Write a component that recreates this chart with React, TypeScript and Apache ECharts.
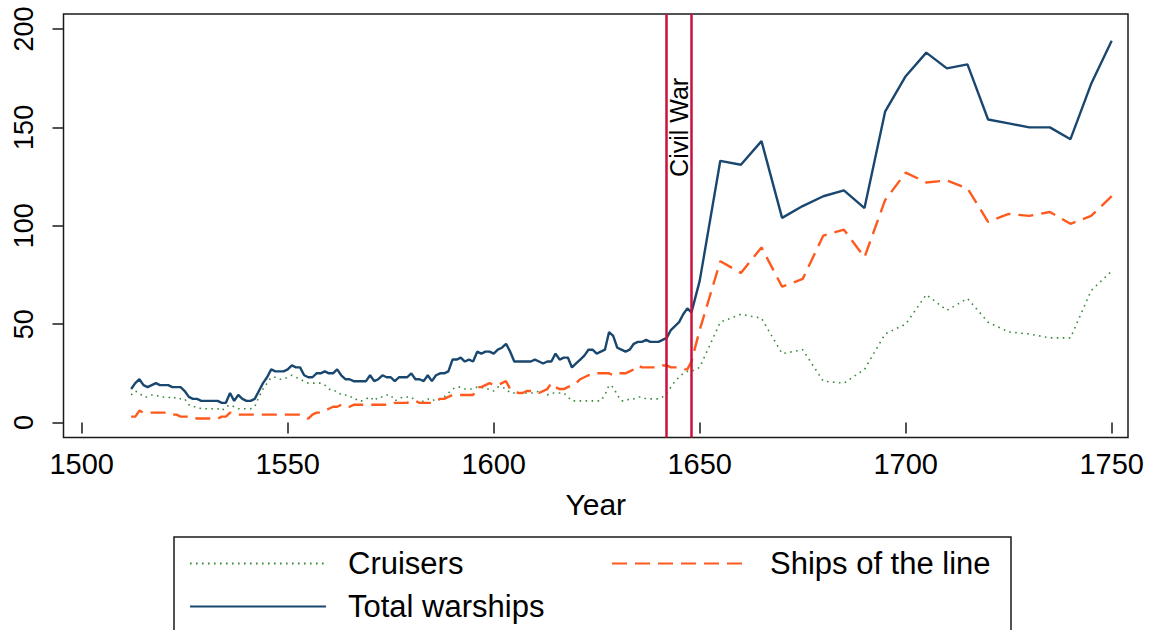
import React, { useEffect, useRef } from "react";
import * as echarts from "echarts";

// Annual observations start here (one value per year up to 1648)
const annualStart = 1512;

// Total warships, 1512–1648 (annual)
const totalAnnual = [
  17, 20, 22, 19, 18, 19, 20, 19, // 1512-1519
  19, 19, 18, 18, 18, 16, 13, 12, 12, 11, // 1520s
  11, 11, 11, 11, 10, 10, 15, 11, 14, 12, // 1530s
  11, 11, 12, 16, 20, 23, 27, 26, 26, 26, // 1540s
  27, 29, 28, 28, 24, 23, 23, 25, 25, 26, // 1550s
  25, 25, 27, 24, 22, 22, 21, 21, 21, 21, // 1560s
  24, 21, 22, 24, 23, 23, 21, 23, 23, 23, // 1570s
  25, 22, 22, 21, 24, 21, 24, 25, 25, 26, // 1580s
  32, 32, 33, 31, 32, 31, 36, 35, 36, 36, // 1590s
  35, 37, 38, 40, 36, 31, 31, 31, 31, 31, // 1600s
  32, 31, 30, 31, 31, 35, 32, 33, 33, 28, // 1610s
  30, 32, 34, 37, 37, 35, 36, 37, 46, 44, // 1620s
  38, 37, 36, 37, 40, 41, 41, 42, 41, 41, // 1630s
  41, 42, 43, 47, 49, 51, 55, 58, 56, // 1640-1648
];

// Ships of the line, 1512–1648 (annual)
const shipsAnnual = [
  3, 3, 6, 5, 5, 5, 5, 5,
  5, 5, 4, 4, 3, 3, 3, 3, 2, 2,
  2, 2, 2, 2, 3, 3, 5, 4, 4, 4,
  4, 4, 4, 4, 4, 4, 4, 4, 4, 4,
  4, 4, 4, 4, 3, 2, 4, 5, 5, 6,
  7, 8, 8, 9, 8, 8, 9, 9, 9, 9,
  9, 9, 9, 9, 9, 9, 10, 10, 10, 10,
  11, 11, 10, 10, 10, 10, 11, 12, 12, 13,
  14, 14, 14, 14, 14, 14, 18, 18, 19, 20,
  19, 19, 20, 21, 17, 16, 15, 15, 16, 16,
  16, 15, 16, 17, 20, 18, 17, 17, 18, 19,
  20, 22, 23, 24, 24, 25, 25, 25, 25, 24,
  25, 25, 25, 26, 27, 29, 28, 28, 28, 28,
  28, 29, 29, 28, 28, 28, 27, 27, 31,
];

// Cruisers, 1512–1648 (annual)
const cruisersAnnual = [
  14, 16, 15, 13, 13, 14, 14, 13,
  13, 13, 12, 13, 12, 12, 9, 8, 8, 7,
  7, 7, 7, 7, 6, 8, 9, 8, 7, 7,
  7, 7, 8, 13, 17, 20, 23, 23, 22, 22,
  23, 24, 23, 22, 21, 20, 20, 20, 20, 19,
  17, 16, 16, 14, 14, 13, 13, 11, 11, 12,
  13, 11, 13, 13, 14, 14, 11, 12, 13, 13,
  13, 11, 10, 11, 12, 11, 12, 12, 13, 15,
  17, 18, 18, 17, 17, 17, 18, 18, 17, 17,
  16, 18, 18, 17, 15, 15, 15, 15, 15, 15,
  15, 16, 16, 14, 15, 15, 15, 15, 13, 11,
  11, 11, 11, 11, 11, 11, 11, 14, 19, 18,
  14, 11, 11, 12, 12, 13, 13, 12, 12, 12,
  12, 13, 15, 18, 21, 23, 25, 26, 26,
];

// Later observations every five years
const laterYears = [1650, 1655, 1660, 1665, 1670, 1675, 1680, 1685, 1690, 1695, 1700, 1705, 1710, 1715, 1720, 1725, 1730, 1735, 1740, 1745, 1750];
const totalLater = [72, 133, 131, 143, 104, 110, 115, 118, 109, 158, 176, 188, 180, 182, 154, 152, 150, 150, 144, 172, 194];
const shipsLater = [47, 82, 76, 89, 69, 73, 95, 98, 84, 113, 127, 122, 123, 119, 102, 106, 105, 107, 101, 105, 115];
const cruisersLater = [28, 51, 55, 53, 35, 37, 21, 20, 27, 45, 50, 65, 57, 63, 51, 46, 45, 43, 43, 67, 77];

const xTicks = [1500, 1550, 1600, 1650, 1700, 1750];
const yTicks = [0, 50, 100, 150, 200];
const civilWarYears = [1642, 1648];
const civilWarLabelY = 150;

const FONT = "'Liberation Sans', Arial, Helvetica, sans-serif";

function pairs(annual: number[], later: number[]): number[][] {
  const out: number[][] = annual.map((v, i) => [annualStart + i, v]);
  later.forEach((v, i) => out.push([laterYears[i], v]));
  return out;
}

export default function App() {
  const ref = useRef<HTMLDivElement>(null);

  useEffect(() => {
    if (!ref.current) return;
    const chart = echarts.init(ref.current, undefined, { renderer: "svg" });
    const frameColor = "#1a1a1a";
    chart.setOption({
      animation: false,
      backgroundColor: "#ffffff",
      grid: {
        left: 63.5,
        right: 24,
        top: 14,
        bottom: 192.5,
        show: true,
        borderColor: frameColor,
        borderWidth: 1.5,
        backgroundColor: "transparent",
      },
      xAxis: {
        type: "value",
        min: 1495.58,
        max: 1753.96,
        name: "Year",
        nameLocation: "middle",
        nameGap: 52,
        nameTextStyle: { fontSize: 30, fontFamily: FONT, color: "#000" },
        axisLine: { show: false },
        splitLine: { show: false },
        axisTick: {
          show: true,
          length: 11,
          customValues: xTicks,
          lineStyle: { color: frameColor, width: 1.5 },
        },
        axisLabel: {
          customValues: xTicks,
          formatter: (v: number) => String(v),
          fontSize: 29,
          fontFamily: FONT,
          color: "#000",
          margin: 12,
        },
      },
      yAxis: {
        type: "value",
        min: -7.62,
        max: 207.62,
        axisLine: { show: false },
        splitLine: { show: false },
        axisTick: {
          show: true,
          length: 11,
          customValues: yTicks,
          lineStyle: { color: frameColor, width: 1.5 },
        },
        axisLabel: {
          customValues: yTicks,
          formatter: (v: number) => String(v),
          rotate: 90,
          fontSize: 27,
          fontFamily: FONT,
          color: "#000",
          margin: 26,
        },
      },
      legend: {
        left: 174,
        top: 537,
        width: 840,
        padding: [11, 15, 20, 15],
        borderColor: frameColor,
        borderWidth: 1.5,
        borderRadius: 0,
        itemWidth: 136,
        itemHeight: 14,
        itemGap: 12,
        selectedMode: false,
        itemStyle: { opacity: 0 },
        textStyle: {
          fontSize: 31,
          fontFamily: FONT,
          color: "#000",
          padding: [0, 0, 0, 17],
          lineHeight: 30,
        },
        data: [
          { name: "Cruisers", textStyle: { width: 251 } },
          { name: "Ships of the line", textStyle: { width: 226 } },
          { name: "Total warships", textStyle: { width: 251 } },
        ],
      },
      series: [
        {
          name: "Cruisers",
          type: "line",
          data: pairs(cruisersAnnual, cruisersLater),
          symbol: "none",
          color: "#3a8a3a",
          lineStyle: { color: "#3a8a3a", width: 1.6, type: [1.6, 4.4] },
        },
        {
          name: "Ships of the line",
          type: "line",
          data: pairs(shipsAnnual, shipsLater),
          symbol: "none",
          color: "#ff5a1e",
          lineStyle: { color: "#ff5a1e", width: 2.4, type: [15, 8] },
        },
        {
          name: "Total warships",
          type: "line",
          data: pairs(totalAnnual, totalLater),
          symbol: "none",
          color: "#1a476f",
          lineStyle: { color: "#1a476f", width: 2.4, type: "solid" },
          markLine: {
            silent: true,
            symbol: ["none", "none"],
            label: { show: false },
            lineStyle: { color: "#c8123c", width: 2.5, type: "solid" },
            data: civilWarYears.map((y) => ({ xAxis: y })),
          },
        },
      ],
    });

    const xa = chart.convertToPixel({ xAxisIndex: 0 }, civilWarYears[0]) as number;
    const xb = chart.convertToPixel({ xAxisIndex: 0 }, civilWarYears[1]) as number;
    const yl = chart.convertToPixel({ yAxisIndex: 0 }, civilWarLabelY) as number;
    chart.setOption({
      graphic: [
        {
          type: "text",
          x: (xa + xb) / 2,
          y: yl,
          rotation: Math.PI / 2,
          style: {
            text: "Civil War",
            fontSize: 25,
            fontFamily: FONT,
            fill: "#000",
            align: "center",
            verticalAlign: "middle",
          },
        },
      ],
    });

    return () => chart.dispose();
  }, []);

  return (
    <div
      ref={ref}
      style={{ position: "absolute", left: 0, top: 0, width: 1152, height: 630, background: "#fff" }}
    />
  );
}
